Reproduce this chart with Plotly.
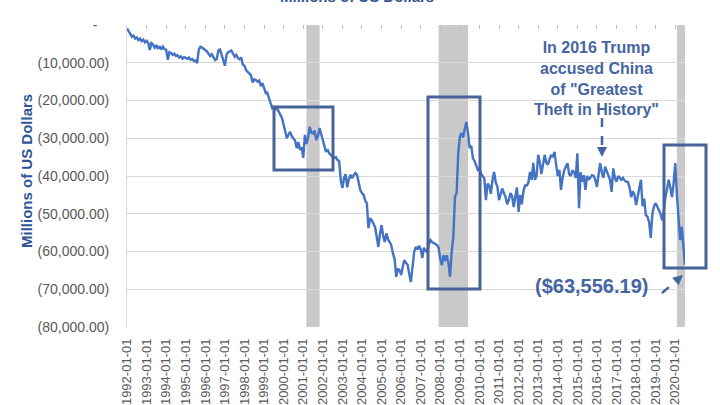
import pandas as pd
import plotly.graph_objects as go

# Monthly trade balance, millions of US dollars
balance_1990s = [
    -900, -1800, -2500, -3100, -2800, -3600, -3300, -4000, -3600, -4300, -3900, -4600,          # 1992
    -4200, -4800, -6600, -4800, -5200, -6000, -5300, -6300, -5600, -6500, -5700, -6400,         # 1993
    -6600, -9200, -7200, -7400, -7900, -7600, -8200, -8000, -8600, -8300, -8900, -8500,         # 1994
    -8700, -9000, -8600, -9200, -9000, -9500, -9400, -10100, -6500, -5800, -6000, -6300,        # 1995
    -6800, -7000, -7600, -8200, -7700, -8400, -9300, -9000, -6700, -6500, -8000, -8800,         # 1996
    -10800, -7800, -7200, -7000, -6800, -7600, -8400, -7900, -8800, -9100, -8600, -10500,       # 1997
    -10800, -12000, -12400, -12900, -13300, -15200, -14400, -14600, -15000, -14700, -16200, -15400,  # 1998
    -17000, -18000, -17900, -19500, -20700, -22000, -21700, -22300, -22100, -23200, -23800, -24600,  # 1999
]
balance_2000s = [
    -26300, -28600, -30000, -29000, -28300, -29500, -30100, -30600, -32600, -31000, -33100, -32400,  # 2000
    -35200, -29100, -31500, -29800, -27000, -28500, -28700, -28000, -30500, -29500, -27300, -29000,  # 2001
    -31000, -32000, -33600, -33000, -34000, -34500, -35000, -35200, -35000, -35800, -36000, -41000,  # 2002
    -43200, -40500, -39500, -43000, -40800, -39700, -40600, -39800, -39200, -39700, -41800, -43700,  # 2003
    -44500, -45000, -46500, -47200, -53800, -51200, -51700, -52600, -53500, -56000, -58800, -55500,  # 2004
    -53000, -56000, -57500, -55200, -56800, -57500, -58300, -60500, -62000, -66700, -64500, -65000,  # 2005
    -66200, -64000, -62300, -63000, -63500, -66000, -68100, -64100, -60100, -58800, -59500, -58500,  # 2006
    -59500, -61700, -59000, -59800, -60100, -58200, -57000, -57500, -57800, -58000, -58300, -59000,  # 2007
    -62000, -63600, -61000, -62500, -61000, -63000, -66700, -60100, -56000, -45500, -44500, -34000,  # 2008
    -29500, -28600, -29800, -27500, -25700, -28500, -32600, -32000, -35300, -36000, -37000, -38400,  # 2009
]
balance_2010s = [
    -38000, -39500, -40000, -40600, -46400, -42000, -42500, -44700, -41000, -38900, -41700, -42800,  # 2010
    -46400, -45000, -43300, -44500, -45500, -47500, -46400, -44500, -45300, -48200, -46000, -43000,  # 2011
    -49500, -45000, -47500, -44000, -42500, -42500, -41800, -38900, -41000, -36500, -41000, -40000,  # 2012
    -34400, -36500, -39500, -37000, -34400, -36500, -37000, -35500, -34400, -35000, -33600, -37000,  # 2013
    -40000, -38400, -43700, -40500, -38500, -37500, -36600, -39500, -40000, -38500, -39000, -40500,  # 2014
    -34000, -48500, -39000, -41500, -39800, -43700, -40000, -41000, -40500, -39800, -40000, -41000,  # 2015
    -42900, -39000, -36600, -39000, -40500, -37500, -38500, -39800, -41000, -44200, -38000, -40500,  # 2016
    -41500, -40000, -40500, -41000, -40500, -41200, -41500, -41600, -43000, -45600, -44000, -45000,  # 2017
    -47700, -45000, -43500, -41000, -48000, -46000, -50300, -50800, -52200, -56400, -50000, -48000,  # 2018
    -47200, -48000, -49000, -50000, -51700, -49500, -45600, -43500, -41000, -43000, -45600, -42000,  # 2019
]
balance_2020 = [-36600, -45000, -50000, -57000, -53500, -59000, -63556.19]

balance = balance_1990s + balance_2000s + balance_2010s + balance_2020
dates = pd.date_range("1992-01-01", periods=len(balance), freq="MS")

# NBER recessions (shaded bands)
recession_starts = ["2001-03-01", "2007-12-01", "2020-02-01"]
recession_ends = ["2001-11-01", "2009-06-01", "2020-07-01"]

y_tick_values = [0, -10000, -20000, -30000, -40000, -50000, -60000, -70000, -80000]
y_tick_labels = ["-\u00a0\u00a0\u00a0", "(10,000.00)", "(20,000.00)", "(30,000.00)", "(40,000.00)",
                 "(50,000.00)", "(60,000.00)", "(70,000.00)", "(80,000.00)"]

# pixel layout of the plot area in the 720x405 page
W, H = 720, 405
PL, PR, PT, PB = 127, 685, 25, 327


def fx(px):
    return (px - PL) / (PR - PL)


def fy(py):
    return (PB - py) / (PB - PT)


LINE_BLUE = "#4472C4"
NOTE_BLUE = "#4565A0"
BOX_BLUE = "#46639A"
GRID = "#D9D9D9"
TICK_GRAY = "#595959"
FONT = "Arial, Liberation Sans, sans-serif"

fig = go.Figure()
fig.add_trace(go.Scatter(
    x=dates, y=balance, mode="lines",
    line=dict(color=LINE_BLUE, width=2.4),
    hoverinfo="x+y", showlegend=False,
))
# dummy trace for the top axis carrying the tick marks
fig.add_trace(go.Scatter(x=[dates[0]], y=[0], xaxis="x2", mode="markers",
                         marker=dict(opacity=0), showlegend=False, hoverinfo="skip"))

shapes = []
for s, e in zip(recession_starts, recession_ends):
    shapes.append(dict(type="rect", xref="x", yref="paper", x0=s, x1=e, y0=0, y1=1,
                       fillcolor="#C9C9C9", line=dict(width=0), layer="below"))

# highlight boxes
for x0, x1, y0, y1 in [(274, 333, 107, 170), (428, 480, 97, 289), (664, 706, 145, 268)]:
    shapes.append(dict(type="rect", xref="paper", yref="paper",
                       x0=fx(x0), x1=fx(x1), y0=fy(y1), y1=fy(y0),
                       line=dict(color=BOX_BLUE, width=3), fillcolor="rgba(0,0,0,0)"))

# dashed arrow shafts
shapes.append(dict(type="line", xref="paper", yref="paper", x0=fx(602), x1=fx(602),
                   y0=fy(118), y1=fy(148), line=dict(color=NOTE_BLUE, width=2.5, dash="dash")))
shapes.append(dict(type="line", xref="paper", yref="paper", x0=fx(662), x1=fx(676),
                   y0=fy(293), y1=fy(281), line=dict(color=NOTE_BLUE, width=2.5, dash="dash")))

annotations = [
    dict(text="<b>Millions of US Dollars</b>", xref="paper", yref="paper",
         x=fx(357), y=fy(7), xanchor="center", yanchor="bottom", showarrow=False,
         font=dict(size=15, color="#2F5597", family=FONT)),
    dict(text="<b>Millions of US Dollars</b>", xref="paper", yref="paper",
         x=fx(26), y=fy(171), xanchor="center", yanchor="middle", textangle=-90,
         showarrow=False, font=dict(size=15, color="#2F5597", family=FONT)),
    dict(text="<b>In 2016 Trump<br>accused China<br>of \"Greatest<br>Theft in History\"</b>",
         xref="paper", yref="paper", x=fx(596), y=fy(78), xanchor="center", yanchor="middle",
         showarrow=False, align="center", font=dict(size=16, color=NOTE_BLUE, family=FONT)),
    dict(text="<b>($63,556.19)</b>", xref="paper", yref="paper", x=fx(591), y=fy(286),
         xanchor="center", yanchor="middle", showarrow=False,
         font=dict(size=20, color=NOTE_BLUE, family=FONT)),
    # arrow heads
    dict(text="", xref="paper", yref="paper", x=fx(602), y=fy(157), ax=0, ay=-9,
         showarrow=True, arrowhead=2, arrowsize=0.8, arrowwidth=2.5, arrowcolor=NOTE_BLUE),
    dict(text="", xref="paper", yref="paper", x=fx(683), y=fy(275), ax=-7, ay=6,
         showarrow=True, arrowhead=2, arrowsize=0.8, arrowwidth=2.5, arrowcolor=NOTE_BLUE),
]

fig.update_layout(
    width=W, height=H,
    margin=dict(l=PL, r=W - PR, t=PT, b=H - PB, autoexpand=False),
    paper_bgcolor="white", plot_bgcolor="white",
    font=dict(family=FONT, color=TICK_GRAY),
    showlegend=False,
    shapes=shapes,
    annotations=annotations,
    xaxis=dict(
        type="date", range=[dates[0], dates[-1]],
        tick0="1992-01-01", dtick="M12", tickformat="%Y-%m-%d",
        tickangle=-90, tickfont=dict(size=13, color=TICK_GRAY),
        ticks="", ticklabelstandoff=8, automargin=False,
        showgrid=False, zeroline=False, showline=False,
    ),
    xaxis2=dict(
        type="date", overlaying="x", matches="x", side="top", automargin=False,
        tick0="1992-01-01", dtick="M12", ticks="inside", ticklen=4,
        tickcolor="#BFBFBF", showticklabels=False, showgrid=False, showline=False,
    ),
    yaxis=dict(
        range=[-80000, 0], tickvals=y_tick_values, ticktext=y_tick_labels,
        tickfont=dict(size=14, color=TICK_GRAY), ticklabelstandoff=14, automargin=False,
        showgrid=True, gridcolor=GRID, gridwidth=1, zeroline=False,
        showline=True, linecolor=GRID, linewidth=1,
    ),
)

# the page body has a default 8px margin; drop it so the figure sits at the window origin
fig.write_html("out.html", config={"displayModeBar": False},
               post_script="document.body.style.margin='0';")
